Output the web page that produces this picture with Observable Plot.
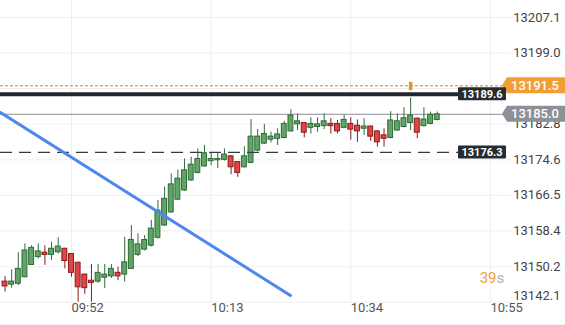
<!DOCTYPE html>
<html><head><meta charset="utf-8">
<script src="https://cdn.jsdelivr.net/npm/d3@7"></script>
<script src="https://cdn.jsdelivr.net/npm/@observablehq/plot@0.6"></script>
<style>html,body{margin:0;padding:0;background:#fff;overflow:hidden}</style>
</head><body><div id="chart"></div>
<script>
// minute offsets relative to 09:52 (first candle = 09:42)
const firstMinute = -10;
const open  = [13146.8,13146.1,13146.3,13147.8,13150.6,13152.4,13153.4,13152.9,13153.5,13154.3,
  13153.1,13151.1,13148.4,13147.0,13146.8,13147.7,13148.0,13148.8,13148.4,13149.7,
  13152.9,13154.1,13155.0,13156.8,13159.6,13162.6,13165.5,13167.6,13169.9,13171.6,
  13173.1,13174.3,13174.5,13174.6,13175.4,13174.1,13172.9,13173.9,13176.7,13178.3,
  13179.2,13179.4,13179.6,13181.1,13182.7,13183.0,13181.9,13182.1,13182.3,13182.8,
  13182.8,13181.9,13182.8,13182.4,13181.7,13182.2,13181.1,13180.2,13179.6,13181.3,
  13182.1,13183.0,13184.0,13182.3,13182.8,13183.7];
const high  = [13148.0,13149.5,13153.4,13155.4,13155.0,13155.4,13155.0,13155.8,13156.8,13154.4,
  13153.2,13151.2,13148.5,13150.7,13150.7,13150.7,13150.7,13150.1,13156.9,13159.6,
  13157.7,13157.3,13160.8,13165.3,13168.4,13171.4,13172.3,13174.8,13175.2,13177.1,
  13177.9,13176.1,13176.1,13177.1,13175.5,13174.2,13177.6,13183.8,13181.5,13182.7,
  13180.9,13181.7,13183.4,13186.0,13185.1,13183.1,13184.2,13184.2,13185.1,13184.0,
  13183.6,13184.8,13184.2,13183.7,13184.0,13182.3,13181.2,13181.7,13185.6,13185.1,
  13186.5,13188.7,13184.1,13186.5,13185.5,13185.5];
const low   = [13144.4,13145.3,13145.9,13147.7,13150.5,13152.0,13150.5,13151.6,13153.1,13149.7,
  13147.8,13142.1,13143.9,13142.1,13146.4,13145.2,13147.5,13147.0,13146.7,13149.6,
  13152.5,13153.8,13154.7,13156.5,13159.4,13162.4,13165.3,13167.4,13169.7,13171.4,
  13172.9,13173.3,13172.6,13174.3,13171.2,13170.6,13172.7,13173.7,13176.5,13178.1,
  13178.5,13177.9,13179.4,13180.9,13181.3,13179.6,13180.5,13180.9,13181.5,13180.5,
  13180.5,13181.7,13179.1,13178.6,13180.2,13178.8,13177.5,13177.5,13179.4,13181.1,
  13181.9,13181.3,13179.4,13182.1,13182.6,13183.5];
const close = [13145.7,13146.8,13149.7,13153.9,13154.5,13153.7,13152.9,13154.3,13154.8,13151.5,
  13148.8,13145.5,13145.3,13146.5,13148.8,13148.4,13149.7,13148.0,13151.2,13156.3,
  13155.3,13156.3,13158.9,13163.0,13165.7,13169.0,13170.3,13172.2,13173.5,13174.8,
  13176.1,13174.8,13174.8,13175.8,13172.9,13171.6,13175.4,13179.9,13179.9,13180.5,
  13179.9,13180.4,13182.8,13184.7,13183.4,13180.8,13182.8,13182.7,13183.4,13182.3,
  13181.1,13183.7,13181.5,13181.1,13182.2,13179.9,13178.6,13179.4,13183.6,13183.4,
  13184.1,13184.7,13180.8,13183.8,13184.9,13185.0];

const xTickMinutes = [0, 21, 42, 63];
const xTickLabels = ["09:52", "10:13", "10:34", "10:55"];
const yTickValues = [13207.1, 13199.0, 13190.9, 13182.8, 13174.6, 13166.5, 13158.4, 13150.2, 13142.1];
const yTickLabels = ["13207.1", "13199.0", "", "13182.8", "13174.6", "13166.5", "13158.4", "13150.2", "13142.1"];

const trendMinutes = [-10.68, 32.93];
const trendValues = [13185.41, 13143.63];

const alertLevel = 13191.5;
const blackLevel = 13189.6;
const lastPrice = 13185.0;
const dashedLevel = 13176.3;
const alertMarkerMinute = [51];
const alertMarkerLow = [13190.4];
const alertMarkerHigh = [13192.3];
const countdownNum = "39";
const countdownUnit = "s";

const candles = open.map((o, k) => ({t: k + firstMinute, o, h: high[k], l: low[k], c: close[k], up: close[k] >= o}));
const ups = candles.filter(d => d.up), downs = candles.filter(d => !d.up);
const trend = trendMinutes.map((t, k) => ({t, v: trendValues[k]}));
const alertMarker = alertMarkerMinute.map((t, k) => ({t, lo: alertMarkerLow[k], hi: alertMarkerHigh[k]}));
const yTicks = yTickValues.map((v, k) => ({v, label: yTickLabels[k]})).filter(d => d.label);
const yTicksMain = yTicks.slice(0, -1), yTickLast = yTicks.slice(-1);

const X0 = -10.677, X1 = 74.29;
const Y0 = 13136.55, Y1 = 13210.98;

function tagsMark(index, scales, values, dims) {
  const g = d3.create("svg:g");
  const W = dims.width;
  const arrowTag = (v, fill, label) => {
    const y = scales.y(v), h = 16, tip = W - 63, box = W - 58;
    g.append("path").attr("d", `M${tip},${y} L${box},${y - h/2} H${W} V${y + h/2} H${box} Z`).attr("fill", fill);
    g.append("text").attr("x", W - 6).attr("y", y).attr("dy", "0.36em").attr("text-anchor", "end")
      .attr("fill", "#fff").attr("font-size", 13).attr("font-weight", 500).text(label);
  };
  const boxTag = (v, label) => {
    const y = scales.y(v), h = 13, x0 = W - 107, w = 48;
    g.append("rect").attr("x", x0).attr("y", y - h/2).attr("width", w).attr("height", h).attr("rx", 1).attr("fill", "#272c31");
    g.append("text").attr("x", x0 + w/2).attr("y", y).attr("dy", "0.36em").attr("text-anchor", "middle")
      .attr("fill", "#fff").attr("font-size", 11).attr("font-weight", 700).text(label);
  };
  arrowTag(alertLevel, "#f29e37", alertLevel.toFixed(1));
  arrowTag(lastPrice, "#8b9197", lastPrice.toFixed(1));
  boxTag(blackLevel, blackLevel.toFixed(1));
  boxTag(dashedLevel, dashedLevel.toFixed(1));
  return g.node();
}

const chart = Plot.plot({
  width: 565, height: 326,
  margin: 0,
  style: {fontFamily: "Roboto, sans-serif", background: "#fff"},
  x: {domain: [X0, X1], axis: null},
  y: {domain: [Y0, Y1], axis: null},
  marks: [
    Plot.ruleY(yTickValues, {x1: X0, x2: 66.3, stroke: "#efefef"}),
    Plot.ruleX(xTickMinutes, {y1: Y1, y2: 13142.1, stroke: "#efefef"}),
    Plot.ruleY([13136.78], {stroke: "#d0d0d0", strokeWidth: 1.5}),
    Plot.ruleY([alertLevel], {x1: X0, x2: 64.96, stroke: "#c48a30", strokeDasharray: "3,2"}),
    Plot.ruleY([lastPrice], {x1: X0, x2: 64.96, stroke: "#8e8e8e"}),
    Plot.ruleX(ups, {x: "t", y1: "l", y2: "h", stroke: "#2f6a3a"}),
    Plot.ruleX(downs, {x: "t", y1: "l", y2: "h", stroke: "#8a1c1c"}),
    Plot.rect(ups, {x1: d => d.t - 0.37, x2: d => d.t + 0.37, y1: "o", y2: "c", fill: "#5fa665", stroke: "#2f6a3a", strokeWidth: 1}),
    Plot.rect(downs, {x1: d => d.t - 0.37, x2: d => d.t + 0.37, y1: "o", y2: "c", fill: "#df4545", stroke: "#8a1c1c", strokeWidth: 1}),
    Plot.ruleY([blackLevel], {x1: X0, x2: 58.2, stroke: "#23282d", strokeWidth: 4}),
    Plot.ruleY([dashedLevel], {x1: X0, x2: 58.2, stroke: "#3a3a3a", strokeWidth: 1.3, strokeDasharray: "12,7"}),
    Plot.line(trend, {x: "t", y: "v", stroke: "#4b87ee", strokeWidth: 3}),
    Plot.ruleX(alertMarker, {x: "t", y1: "lo", y2: "hi", stroke: "#e0962e", strokeWidth: 3.5}),
    Plot.text(yTicksMain, {y: "v", text: "label", frameAnchor: "right", dx: -5, textAnchor: "end", fill: "#444", fontSize: 13}),
    Plot.text(yTickLast, {y: "v", text: "label", frameAnchor: "right", dx: -5, dy: -6, textAnchor: "end", fill: "#444", fontSize: 13}),
    Plot.text(xTickMinutes, {x: d => d, text: (d, i) => xTickLabels[i], frameAnchor: "bottom", dy: -15, textAnchor: "start", fill: "#555", fontSize: 13}),
    Plot.text([countdownNum], {text: d => d, frameAnchor: "bottom-right", dx: -69, dy: -44, textAnchor: "end", fill: "#e9a13f", fontSize: 15}),
    Plot.text([countdownUnit], {text: d => d, frameAnchor: "bottom-right", dx: -69, dy: -44, textAnchor: "start", fill: "#aab3c2", fontSize: 15}),
    tagsMark
  ]
});
document.getElementById("chart").appendChild(chart);
</script>
</body></html>
